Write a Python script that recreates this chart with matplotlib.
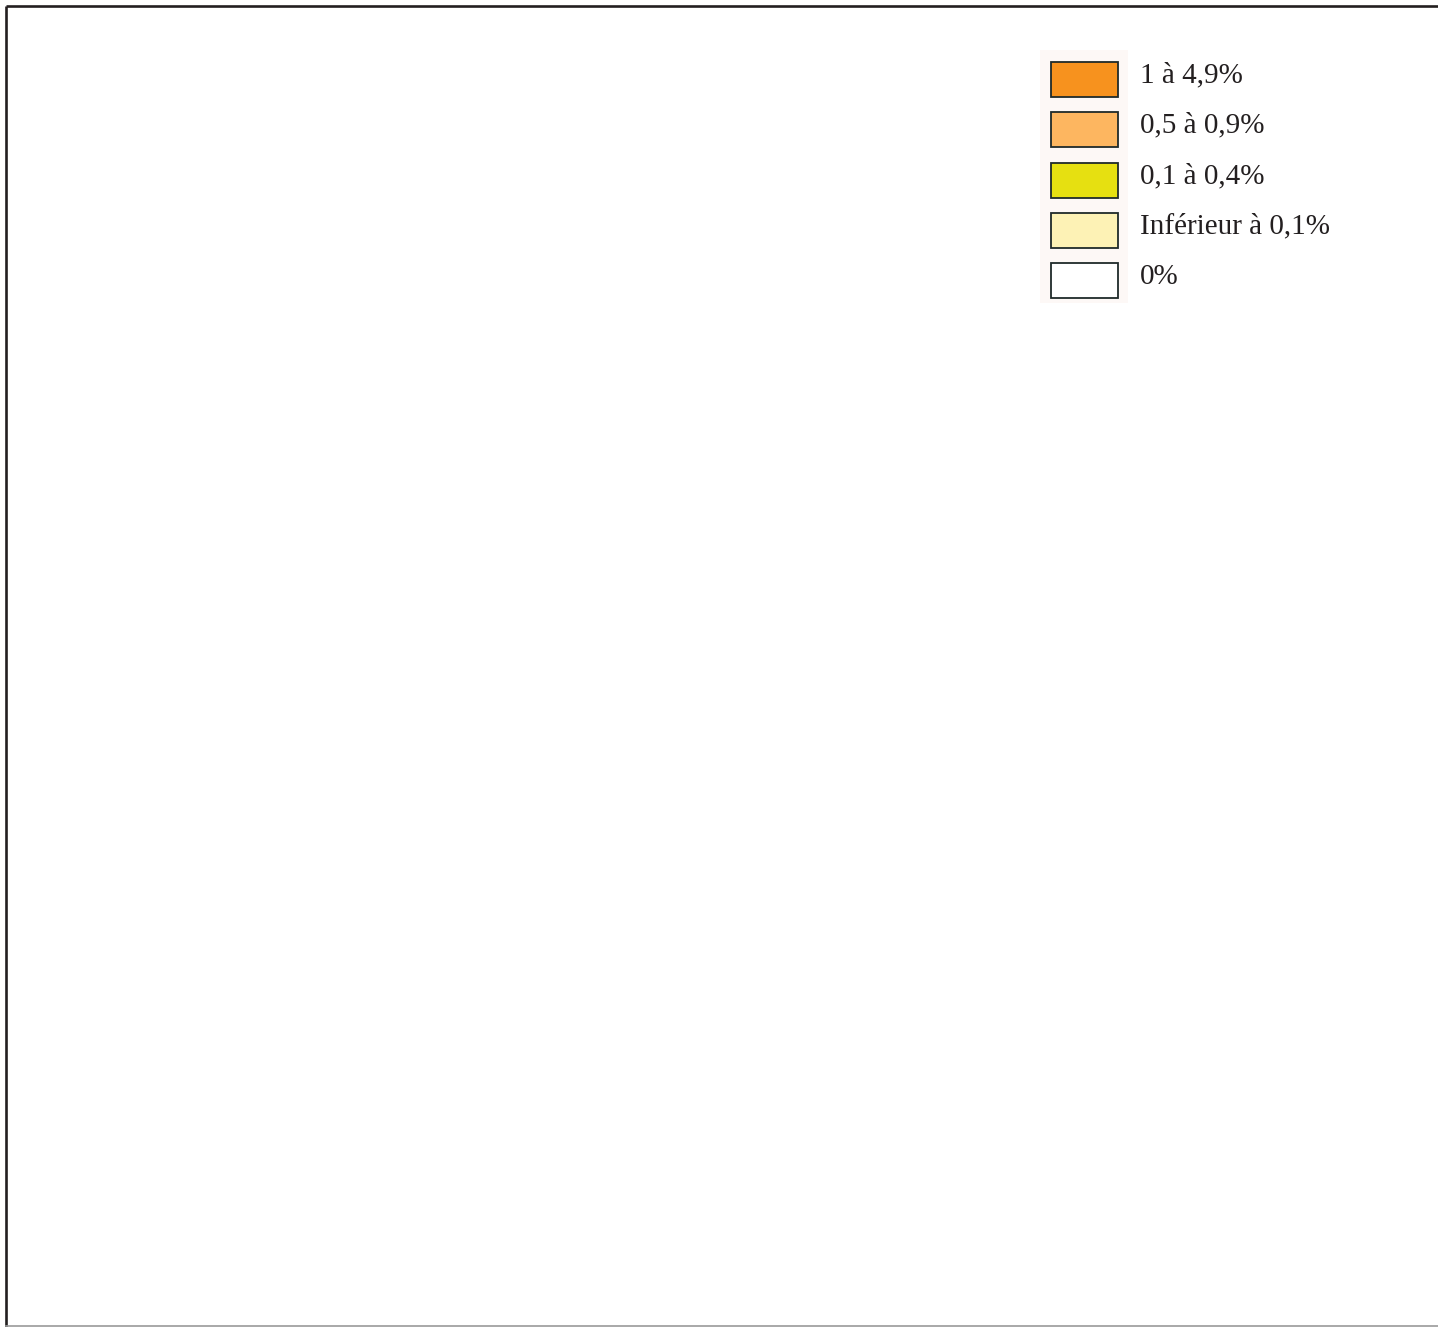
import matplotlib.pyplot as plt
from matplotlib.patches import Rectangle

# legend classes of the (empty) map
labels = ['1 à 4,9%', '0,5 à 0,9%', '0,1 à 0,4%', 'Inférieur à 0,1%', '0%']
colors = ['#f7921e', '#fdb660', '#e6e011', '#fdf2b5', '#ffffff']

W, H = 1438, 1327
fig = plt.figure(figsize=(W / 100, H / 100), dpi=100)
ax = fig.add_axes([0, 0, 1, 1])
ax.set_xlim(0, W)
ax.set_ylim(H, 0)
ax.axis('off')

# frame (top and left dark, bottom light grey)
ax.plot([5.5, W], [5.5, 5.5], color='#231f20', lw=1.9, solid_capstyle='butt')
ax.plot([5.5, 5.5], [5.5, H], color='#231f20', lw=1.9, solid_capstyle='butt')
ax.plot([5.5, W], [1325.5, 1325.5], color='#9a9a9a', lw=1.2)

# faint backing behind swatches
ax.add_patch(Rectangle((1040, 50), 88, 253, facecolor='#fdf8f6', edgecolor='none'))

x0, y0, w, h, step = 1051, 62, 67, 35, 50.3
for i, (lab, col) in enumerate(zip(labels, colors)):
    y = y0 + i * step
    ax.add_patch(Rectangle((x0, y), w, h, facecolor=col, edgecolor='#1f2a2a', lw=1.3))
    ax.text(1140, y + h / 2 - 4, lab, fontsize=21, family='Liberation Serif',
            va='center', ha='left', color='#231f20')

fig.savefig('out.png', dpi=100)
